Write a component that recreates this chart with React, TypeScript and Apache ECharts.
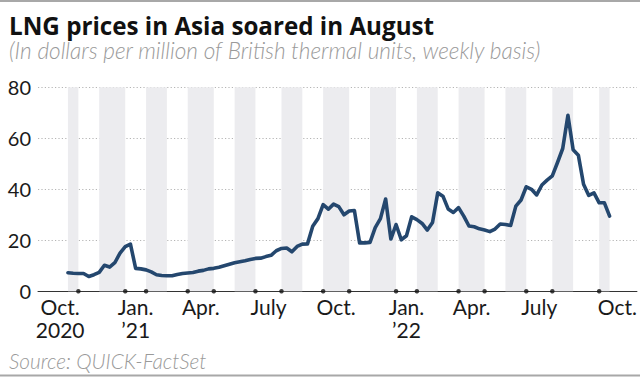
import React, { useEffect, useRef } from "react";
import * as echarts from "echarts";

// Weekly LNG spot prices in Asia ($/MMBtu), week index 0..104 (mid-Oct 2020 .. early Oct 2022)
const prices = [
  7.3, 7.1, 7.0, 7.0, 5.8, 6.5, 7.4, 10.2, 9.5, 11.2,
  15.0, 17.5, 18.5, 9.0, 8.8, 8.4, 7.6, 6.5, 6.2, 6.1,
  6.1, 6.6, 7.0, 7.2, 7.4, 7.9, 8.2, 8.8, 9.0, 9.4,
  10.0, 10.6, 11.2, 11.6, 12.0, 12.5, 12.9, 13.0, 13.6, 14.1,
  15.9, 16.8, 17.0, 15.5, 17.6, 18.5, 18.6, 25.5, 28.5, 34.0,
  32.2, 34.2, 33.2, 30.0, 31.5, 31.7, 19.0, 19.0, 19.2, 25.0,
  28.5, 36.2, 20.5, 26.2, 20.2, 21.8, 29.2, 28.1, 26.6, 24.0,
  27.0, 38.6, 37.3, 32.3, 30.9, 32.8, 29.5, 25.6, 25.3, 24.5,
  24.0, 23.4, 24.4, 26.4, 26.2, 25.8, 33.4, 35.8, 41.0, 40.0,
  37.8, 41.7, 43.6, 45.3, 50.5, 56.0, 69.0, 55.5, 53.4, 42.0,
  37.6, 38.6, 34.7, 34.7, 29.5,
];

// Shaded (alternate) months, in week units: [start, end]
const shadedMonths = [
  [0, 2], [6, 11], [15, 19], [23, 28], [32, 36], [41, 45],
  [49, 54], [58, 63], [67, 71], [75, 80], [84, 88], [93, 97], [102, 104],
];

// Tick dots at the boundaries of the labelled months (week units)
const tickDots = [2, 11, 15, 23, 28, 36, 41, 49, 54, 63, 67, 75, 80, 88, 93, 102];

// Month labels and their positions (week units)
const monthLabels = ["Oct.\n2020", "Jan.\n\u201921", "Apr.", "July", "Oct.", "Jan.\n\u201922", "Apr.", "July", "Oct."];
const monthLabelPos = [-1.5, 13, 25.5, 38.5, 51.5, 65, 77.5, 90.5, 105.5];

const yTicks = [0, 20, 40, 60, 80];

const FONT = "Lato";

export default function App() {
  const ref = useRef<HTMLDivElement>(null);

  useEffect(() => {
    if (!ref.current) return;
    const chart = echarts.init(ref.current, null, { renderer: "svg" });

    const labelMap: Record<number, string> = {};
    monthLabelPos.forEach((p, i) => {
      labelMap[Math.round(p * 4)] = monthLabels[i];
    });

    chart.setOption({
      animation: false,
      backgroundColor: "#ffffff",
      grid: { left: 38, right: 1, top: 87.3, bottom: 90.7, containLabel: false },
      xAxis: {
        type: "value",
        min: -5.75,
        max: 109.25,
        interval: 0.25,
        axisLine: { show: true, onZero: true, lineStyle: { color: "#333", width: 1 } },
        axisTick: { show: false },
        splitLine: { show: false },
        axisLabel: {
          show: true,
          margin: 4,
          fontFamily: FONT,
          fontSize: 21,
          lineHeight: 23,
          color: "#1a1a1a",
          showMinLabel: true,
          showMaxLabel: true,
          formatter: (v: number) => labelMap[Math.round(v * 4)] || "",
        },
      },
      yAxis: {
        type: "value",
        min: yTicks[0],
        max: yTicks[yTicks.length - 1],
        interval: 20,
        axisLine: { show: false },
        axisTick: { show: false },
        axisLabel: {
          margin: 7,
          fontFamily: FONT,
          fontSize: 20,
          color: "#1a1a1a",
          formatter: (v: number) => (v === 0 ? "0" : String(v)),
        },
        splitLine: {
          show: true,
          lineStyle: { color: "#b5b5b5", width: 1.2, type: [1.2, 2.2] },
        },
      },
      series: [
        {
          type: "line",
          data: prices.map((v, i) => [i, v]),
          symbol: "none",
          lineStyle: { color: "#24476e", width: 3.6, join: "round", cap: "round" },
          z: 5,
          markArea: {
            silent: true,
            itemStyle: { color: "#ececef" },
            data: shadedMonths.map(([a, b]) => [{ xAxis: a }, { xAxis: b }]),
            z: 1,
          },
        },
        {
          type: "scatter",
          data: tickDots.map((d) => [d, 0]),
          symbol: "circle",
          symbolSize: 4.5,
          itemStyle: { color: "#111" },
          clip: false,
          z: 6,
          silent: true,
        },
      ],
      graphic: [
        {
          type: "line",
          shape: { x1: 0, y1: 1, x2: 640, y2: 1 },
          style: { stroke: "#a8a8a8", lineWidth: 2 },
        },
        {
          type: "text",
          style: {
            x: 9,
            y: 25.3,
            text: "LNG prices in Asia soared in August",
            font: `bold 24.2px "Open Sans"`,
            lineHeight: 22,
            verticalAlign: "middle",
            fill: "#111",
          },
        },
        {
          type: "text",
          style: {
            x: 9,
            y: 50,
            text: "(In dollars per million of British thermal units, weekly basis)",
            font: `italic 300 22.6px ${FONT}`,
            lineHeight: 22,
            verticalAlign: "middle",
            fill: "#9a9a9a",
          },
        },
        {
          type: "text",
          style: {
            x: 9,
            y: 360,
            text: "Source: QUICK-FactSet",
            font: `italic 300 20.8px ${FONT}`,
            lineHeight: 20,
            verticalAlign: "middle",
            fill: "#9a9a9a",
          },
        },
        {
          type: "line",
          shape: { x1: 0, y1: 375.5, x2: 640, y2: 375.5 },
          style: { stroke: "#a8a8a8", lineWidth: 2 },
        },
      ],
    });

    return () => chart.dispose();
  }, []);

  return (
    <div
      ref={ref}
      style={{ position: "absolute", left: 0, top: 0, width: 640, height: 382 }}
    />
  );
}
